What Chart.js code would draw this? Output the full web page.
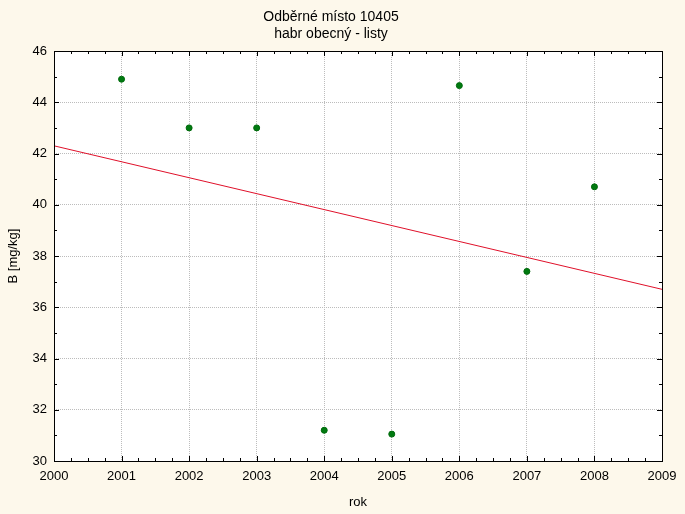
<!DOCTYPE html>
<html>
<head>
<meta charset="utf-8">
<script src="https://cdn.jsdelivr.net/npm/chart.js@4.4.0/dist/chart.umd.min.js"></script>
<style>
  html, body { margin: 0; padding: 0; background: #fdf8eb; }
  #wrap { width: 685px; height: 514px; }
</style>
</head>
<body>
<div id="wrap"><canvas id="chart" width="685" height="514"></canvas></div>
<script>
// data
const years = [2001, 2002, 2003, 2004, 2005, 2006, 2007, 2008];
const boron = [44.9, 43.0, 43.0, 31.2, 31.05, 44.65, 37.4, 40.7];
const trendYears = [2000, 2009];
const trendValues = [42.3, 36.7];
const titleLines = ['Odběrné místo 10405', 'habr obecný - listy'];

const FONT = 'Liberation Sans, Arial, sans-serif';

// cream background + white plot area
const bgPlugin = {
  id: 'bg',
  beforeDraw(chart) {
    const c = chart.ctx, a = chart.chartArea;
    c.save();
    c.fillStyle = '#fdf8eb';
    c.fillRect(0, 0, chart.width, chart.height);
    c.fillStyle = '#ffffff';
    c.fillRect(a.left, a.top, a.right - a.left, a.bottom - a.top);
    c.restore();
  }
};

// frame + inward ticks on all four sides
const frameTicks = {
  id: 'frameTicks',
  afterDatasetsDraw(chart) {
    const c = chart.ctx, a = chart.chartArea;
    const xs = chart.scales.x, ys = chart.scales.y;
    c.save();
    c.strokeStyle = '#000';
    c.lineWidth = 1;
    c.beginPath();
    for (let v = xs.min; v <= xs.max + 1e-9; v += 0.25) {
      const px = Math.round(xs.getPixelForValue(v)) + 0.5;
      const len = Math.abs(v - Math.round(v)) < 1e-9 ? 5 : 3;
      c.moveTo(px, a.bottom); c.lineTo(px, a.bottom - len);
      c.moveTo(px, a.top); c.lineTo(px, a.top + len);
    }
    for (let v = ys.min; v <= ys.max + 1e-9; v += 1) {
      const py = Math.round(ys.getPixelForValue(v)) + 0.5;
      const len = v % 2 === 0 ? 5 : 3;
      c.moveTo(a.left, py); c.lineTo(a.left + len, py);
      c.moveTo(a.right, py); c.lineTo(a.right - len, py);
    }
    c.stroke();
    c.strokeRect(Math.round(a.left) + 0.5, Math.round(a.top) + 0.5,
      Math.round(a.right - a.left), Math.round(a.bottom - a.top));
    c.restore();
  }
};

new Chart(document.getElementById('chart').getContext('2d'), {
  type: 'scatter',
  data: {
    datasets: [{
      type: 'line',
      label: 'trend',
      data: trendYears.map((x, i) => ({ x: x, y: trendValues[i] })),
      borderColor: '#e0102a',
      borderWidth: 1,
      pointRadius: 0,
      fill: false
    }, {
      label: 'B',
      data: years.map((x, i) => ({ x: x, y: boron[i] })),
      backgroundColor: '#007a10',
      borderColor: '#006a0c',
      borderWidth: 1,
      pointRadius: 3
    }]
  },
  options: {
    responsive: false,
    animation: false,
    layout: { padding: { top: 0, right: 23, bottom: 0, left: 0 } },
    plugins: {
      legend: { display: false },
      tooltip: { enabled: false },
      title: {
        display: true,
        text: titleLines,
        color: '#000',
        font: { family: FONT, size: 14, weight: 'normal', lineHeight: 1.215 },
        padding: { top: 9, bottom: 8 }
      }
    },
    scales: {
      x: {
        type: 'linear',
        min: 2000, max: 2009,
        afterFit(scale) { scale.height = 53; },
        ticks: { stepSize: 1, color: '#000', padding: 8, maxRotation: 0,
          font: { family: FONT, size: 13 }, callback: v => String(v) },
        grid: { color: '#bcbcbc', drawTicks: false },
        border: { display: false, dash: [1, 1] },
        title: { display: true, text: 'rok', color: '#000', padding: { top: 4 },
          font: { family: FONT, size: 13 } }
      },
      y: {
        min: 30, max: 46,
        afterFit(scale) { scale.width = 54; },
        ticks: { stepSize: 2, color: '#000', padding: 7,
          font: { family: FONT, size: 13 } },
        grid: { color: '#bcbcbc', drawTicks: false },
        border: { display: false, dash: [1, 1] },
        title: { display: true, text: 'B [mg/kg]', color: '#000', padding: { top: 6, bottom: 0 },
          font: { family: FONT, size: 13 } }
      }
    }
  },
  plugins: [bgPlugin, frameTicks]
});
</script>
</body>
</html>
